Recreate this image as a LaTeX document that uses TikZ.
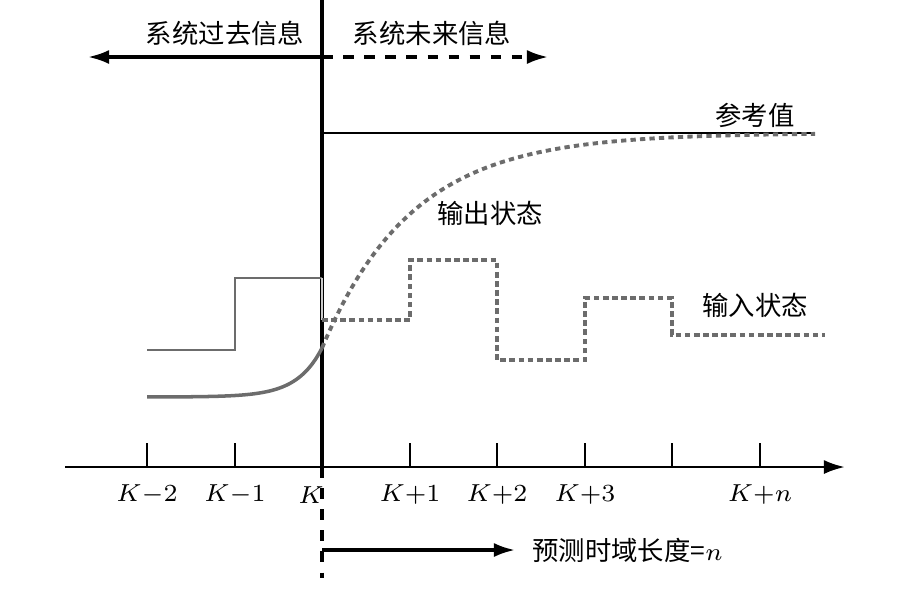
\documentclass[tikz,border=0pt]{standalone}
\usepackage{amsmath}
\usepackage{fontspec}
\newfontfamily\cjk{Noto Sans CJK SC}
\usetikzlibrary{arrows.meta}
\tikzset{
  lbl/.style={font=\cjk\fontsize{7.5}{8}\selectfont},
  klbl/.style={font=\fontsize{7.5}{8}\selectfont},
  past/.style={line width=0.8pt,gray!85!black},
  fut/.style={line width=0.9pt,gray!85!black,dashed,dash pattern=on 1.6pt off 1pt},
}
\begin{document}
\begin{tikzpicture}[x=0.01cm,y=-0.01cm]
\useasboundingbox (0,0) rectangle (916,590);
% time axis
\coordinate (a0) at (65,467);
\coordinate (a1) at (845,467);
\draw[line width=0.8pt,-{Latex[length=6pt,width=4pt]}] (a0) -- (a1);
\foreach \x/\t in {147/$K{-}2$,235/$K{-}1$,410/$K{+}1$,497/$K{+}2$,585/$K{+}3$,672/{},760/$K{+}n$}
{\draw[line width=0.8pt] (\x,443) -- (\x,467);
 \node[klbl] (k\x) at (\x,495) {\t};}
\draw[line width=0.8pt] (322,443) -- (322,467);
\node[klbl] (k322) at (311,495) {$K$};
% current instant
\coordinate (top) at (322,0);
\coordinate (cut) at (322,467);
\coordinate (bot) at (322,578);
\draw[line width=0.9pt] (top) -- (cut);
\draw[line width=0.9pt,dashed] (cut) -- (bot);
% past / future
\coordinate (pl) at (88,57);
\coordinate (pm) at (322,57);
\coordinate (pr) at (548,57);
\draw[line width=0.9pt,-{Latex[length=6pt,width=4pt]}] (pm) -- (pl);
\draw[line width=0.9pt,dashed,-{Latex[length=6pt,width=4pt]}] (pm) -- (pr);
\node[lbl] (past) at (225,33) {系统过去信息};
\node[lbl] (future) at (432,33) {系统未来信息};
% reference
\coordinate (r0) at (322,133);
\coordinate (r1) at (815,133);
\draw[line width=0.8pt] (r0) -- (r1);
\node[lbl] (ref) at (755,115) {参考值};
% output
\draw[past,line width=1pt] plot[domain=147:322,samples=60,smooth] (\x,{397-49*exp((\x-322)/25)});
\draw[fut,line width=1.1pt,dash pattern=on 1.5pt off 1.2pt] plot[domain=322:815,samples=80,smooth] (\x,{133+215*exp(-(\x-322)/90)});
\node[lbl] (out) at (490,213) {输出状态};
% input
\draw[past] (147,350) -- (235,350) -- (235,278) -- (322,278);
\draw[gray!40,line width=0.8pt] (322,278) -- (322,320);
\draw[fut] (322,320) -- (410,320) -- (410,260) -- (497,260) -- (497,360) -- (585,360)
  -- (585,298) -- (672,298) -- (672,335) -- (825,335);
\node[lbl] (in) at (755,305) {输入状态};
% horizon
\coordinate (h0) at (322,550);
\coordinate (h1) at (515,550);
\draw[line width=0.9pt,-{Latex[length=6pt,width=4pt]}] (h0) -- (h1);
\node[lbl,anchor=west] (hor) at (520,550) {预测时域长度=$n$};
\end{tikzpicture}
\end{document}
